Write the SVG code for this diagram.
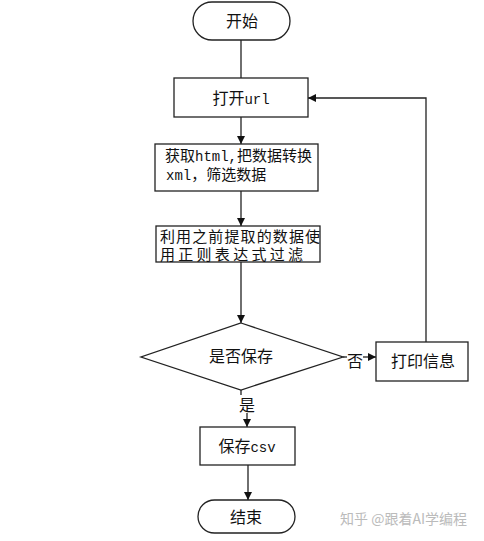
<svg xmlns="http://www.w3.org/2000/svg" width="484" height="541" viewBox="0 0 484 541">
<style>
.s{fill:#fff;stroke:#222;stroke-width:1.3}
.t{font-family:"Noto Sans CJK SC","Liberation Mono",sans-serif;font-size:16px;fill:#111}
.m{font-family:"Liberation Mono","Noto Sans CJK SC",monospace;font-size:15px}
.l{font-family:"Liberation Mono",monospace;font-size:14px}
.c{stroke:#222;stroke-width:1.3;fill:none}
.wm{font-family:"Noto Sans CJK SC",sans-serif;font-size:14px;fill:#bbb}
</style>
<defs>
<marker id="a" markerWidth="8" markerHeight="8" refX="8" refY="4" orient="auto" markerUnits="userSpaceOnUse">
<path d="M0,0 L8,4 L0,8 Z" fill="#111"/>
</marker>
</defs>
<rect width="484" height="541" fill="#fff"/>
<g id="connectors">
<line class="c" x1="241" y1="40" x2="241" y2="78"/>
<line class="c" x1="241" y1="117" x2="241" y2="144" marker-end="url(#a)"/>
<line class="c" x1="241" y1="191" x2="241" y2="226" marker-end="url(#a)"/>
<line class="c" x1="241" y1="262" x2="241" y2="323" marker-end="url(#a)"/>
<line class="c" x1="343" y1="357" x2="347" y2="357"/>
<line class="c" x1="363" y1="357" x2="376" y2="357" marker-end="url(#a)"/>
<polyline class="c" points="426,342 426,98 308,98" marker-end="url(#a)"/>
<line class="c" x1="241" y1="390" x2="241" y2="395"/>
<line class="c" x1="247" y1="413" x2="247" y2="427" marker-end="url(#a)"/>
<line class="c" x1="248" y1="465" x2="248" y2="500" marker-end="url(#a)"/>
<text class="t" x="355" y="367" text-anchor="middle">否</text>
<text class="t" x="247" y="411" text-anchor="middle">是</text>
</g>
<g id="start">
<rect class="s" x="193" y="2" width="97" height="38" rx="19"/>
<text class="t" x="242" y="27" text-anchor="middle">开始</text>
</g>
<g id="open">
<rect class="s" x="174" y="78" width="134" height="39"/>
<text class="t" x="241" y="104" text-anchor="middle">打开<tspan class="l">url</tspan></text>
</g>
<g id="fetch">
<rect class="s" x="155" y="144" width="163" height="47"/>
<text class="t m" x="165" y="161">获取<tspan class="l">html,</tspan>把数据转换</text>
<text class="t m" x="166" y="180"><tspan class="l">xml</tspan>，筛选数据</text>
</g>
<g id="filter">
<rect class="s" x="156" y="226" width="164" height="36"/>
<text class="t m" x="160" y="242" textLength="160" lengthAdjust="spacing">利用之前提取的数据使</text>
<text class="t m" x="160" y="260" textLength="143" lengthAdjust="spacing">用正则表达式过滤</text>
</g>
<g id="decide">
<polygon class="s" points="241,323 343,357 241,390 141,357"/>
<text class="t" x="241" y="362" text-anchor="middle">是否保存</text>
</g>
<g id="print">
<rect class="s" x="376" y="342" width="92" height="39"/>
<text class="t" x="423" y="367" text-anchor="middle">打印信息</text>
</g>
<g id="save">
<rect class="s" x="200" y="427" width="95" height="38"/>
<text class="t" x="247" y="452" text-anchor="middle">保存<tspan class="l">csv</tspan></text>
</g>
<g id="end">
<rect class="s" x="198" y="500" width="97" height="33" rx="16.5"/>
<text class="t" x="246" y="523" text-anchor="middle">结束</text>
</g>
<text class="wm" x="340" y="524">知乎 @跟着AI学编程</text>
</svg>
